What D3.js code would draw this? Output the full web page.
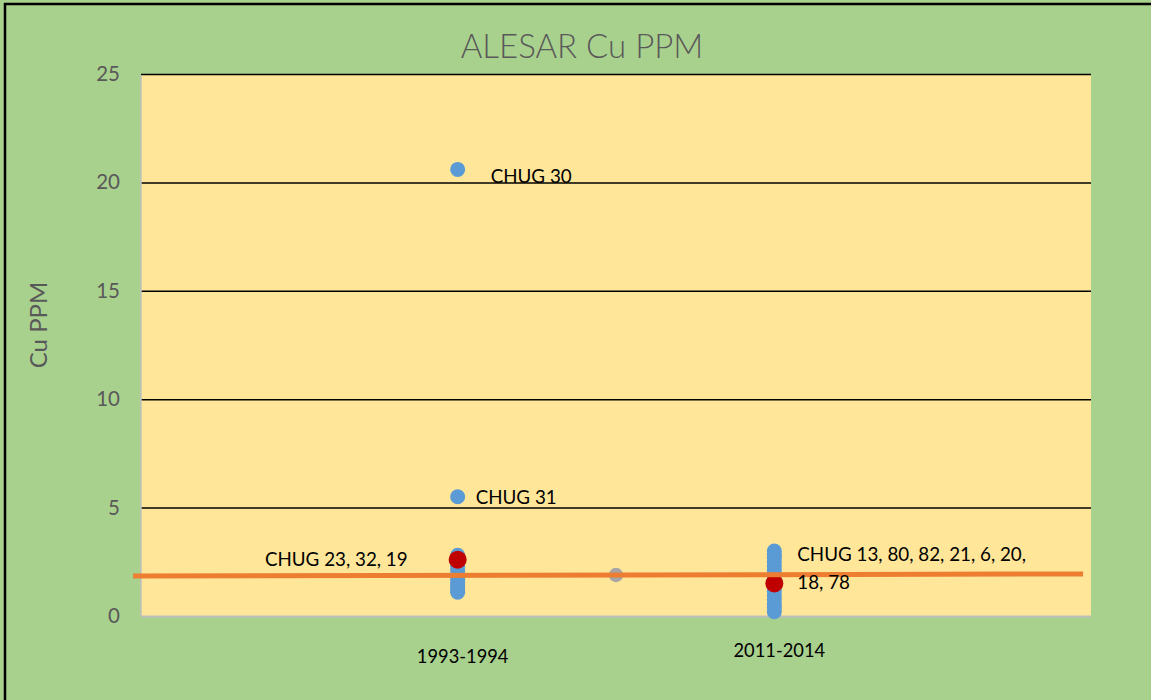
<!DOCTYPE html>
<html><head><meta charset="utf-8">
<script src="https://cdn.jsdelivr.net/npm/d3@7"></script>
<style>html,body{margin:0;padding:0;background:#A9D18E;}svg{display:block;}</style>
</head><body>
<script>
// ---- data ----
const categories = ["1993-1994", "2011-2014"];
const categoryX = [1, 2];
const yTicks = [0, 5, 10, 15, 20, 25];
const blue1993 = [20.6, 5.5, 2.8, 2.65, 2.5, 2.3, 2.1, 1.9, 1.7, 1.55, 1.4, 1.3, 1.2, 1.1];
const blue2011 = [3.0, 2.85, 2.7, 2.5, 2.3, 2.1, 1.9, 1.7, 1.55, 1.35, 1.15, 0.95, 0.75, 0.55, 0.4, 0.2];
const redX = [1, 2];
const redY = [2.6, 1.5];
const grayX = [1.5];
const grayY = [1.89];
const trendX = [-0.025, 2.975];
const trendY = [1.84, 1.94];
const labelText = ["CHUG 30", "CHUG 31", "CHUG 23, 32, 19", "CHUG 13, 80, 82, 21, 6, 20,", "18, 78"];
const labelX = [1, 1, 1, 2, 2];
const labelY = [20.6, 5.5, 2.6, 2.8, 1.55];

// ---- layout ----
const W = 1151, H = 700;
const plot = {left: 141, right: 1091, top: 74, bottom: 616};
const svg = d3.select("body").append("svg").attr("width", W).attr("height", H);
svg.append("rect").attr("width", W).attr("height", H).attr("fill", "#A9D18E");
svg.append("rect").attr("x", 5).attr("y", 4).attr("width", W + 20).attr("height", H + 20)
  .attr("fill", "none").attr("stroke", "#000").attr("stroke-width", 2.5);

const x = d3.scaleLinear().domain([0, 3]).range([plot.left, plot.right]);
const y = d3.scaleLinear().domain([0, 25]).range([plot.bottom, plot.top]);

svg.append("rect").attr("x", plot.left).attr("y", plot.top)
  .attr("width", plot.right - plot.left).attr("height", plot.bottom - plot.top).attr("fill", "#FFE699");

const font = "Lato, 'Liberation Sans', sans-serif";

// gridlines
const yAxis = d3.axisLeft(y).tickValues(yTicks).tickSize(-(plot.right - plot.left)).tickPadding(21);
const gy = svg.append("g").attr("transform", `translate(${plot.left},0)`).call(yAxis);
gy.select(".domain").remove();
gy.selectAll(".tick line").attr("stroke", d => d === 0 ? "#BFBFBF" : "#000").attr("stroke-width", d => d === 0 ? 2 : 1.5);
gy.selectAll(".tick text").attr("font-family", font).attr("font-size", 20.5).attr("fill", "#595959");
// left axis line (gray)
svg.append("line").attr("x1", x(0)).attr("x2", x(0)).attr("y1", y(0)).attr("y2", y(25) + 1)
  .attr("stroke", "#BFBFBF").attr("stroke-width", 1.5);

// category labels
const catDy = [41, 35];
svg.append("g").selectAll("text").data(categories).join("text")
  .attr("x", (d, i) => x(categoryX[i]) + 5)
  .attr("y", (d, i) => y(0) + catDy[i] + 6)
  .attr("text-anchor", "middle")
  .attr("font-family", font).attr("font-size", 18.3).attr("fill", "#000")
  .text(d => d);

// points
const blueColor = "#5B9BD5";
const pts = [];
blue1993.forEach(v => pts.push([categoryX[0], v]));
blue2011.forEach(v => pts.push([categoryX[1], v]));
svg.append("g").selectAll("circle").data(pts).join("circle")
  .attr("cx", d => x(d[0])).attr("cy", d => y(d[1])).attr("r", 7.5).attr("fill", blueColor);
svg.append("g").selectAll("circle").data(redY).join("circle")
  .attr("cx", (d, i) => x(redX[i])).attr("cy", d => y(d)).attr("r", 9).attr("fill", "#C00000");
svg.append("g").selectAll("circle").data(grayY).join("circle")
  .attr("cx", (d, i) => x(grayX[i])).attr("cy", d => y(d)).attr("r", 7.2).attr("fill", "#A5A5A5");

// trend line
svg.append("path").datum(trendX.map((d, i) => [d, trendY[i]]))
  .attr("d", d3.line().x(d => x(d[0])).y(d => y(d[1])))
  .attr("stroke", "#ED7D31").attr("stroke-width", 5).attr("fill", "none");

// point labels
const labelDx = [33, 18, -50, 23, 23];
const labelDy = [14, 7, 6, 6, 7];
const labelAnchor = ["start", "start", "end", "start", "start"];
svg.append("g").selectAll("text").data(labelText).join("text")
  .attr("x", (d, i) => x(labelX[i]) + labelDx[i])
  .attr("y", (d, i) => y(labelY[i]) + labelDy[i])
  .attr("text-anchor", (d, i) => labelAnchor[i])
  .attr("font-family", font).attr("font-size", 18.8).attr("fill", "#000")
  .text(d => d);

// title
svg.append("text").attr("x", 582).attr("y", 58).attr("text-anchor", "middle")
  .attr("font-family", font).attr("font-weight", 300).attr("font-size", 33).attr("fill", "#595959")
  .text("ALESAR Cu PPM");
// y title
svg.append("text").attr("transform", "translate(47,325) rotate(-90)").attr("text-anchor", "middle")
  .attr("font-family", font).attr("font-size", 24).attr("fill", "#595959")
  .text("Cu PPM");
</script>
</body></html>
